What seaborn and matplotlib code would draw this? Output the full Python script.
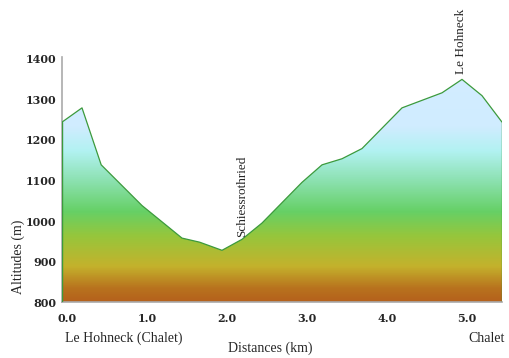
import numpy as np
import pandas as pd
import seaborn as sns
import matplotlib.pyplot as plt
from matplotlib.colors import LinearSegmentedColormap
from matplotlib.transforms import ScaledTranslation

# profile
distances = [0.0, 0.25, 0.49, 1.0, 1.5, 1.72, 2.0, 2.25, 2.5, 3.0, 3.25, 3.5, 3.75,
             4.0, 4.25, 4.75, 5.0, 5.25, 5.5]
altitudes = [1240, 1275, 1135, 1035, 955, 945, 925, 952, 992, 1092, 1135, 1150, 1175,
             1225, 1275, 1312, 1345, 1305, 1240]

waypoints = ["Schiessrothried", "Le Hohneck"]
waypoint_km = [2.25, 4.99]
waypoint_alt = [950, 1350]

x_ticks = [0.0, 1.0, 2.0, 3.0, 4.0, 5.0]
y_ticks = [800, 900, 1000, 1100, 1200, 1300, 1400]

# colour by altitude
grad_alt = [800, 830, 885, 960, 1020, 1100, 1170, 1230, 1400]
grad_col = ["#b5621c", "#b8721e", "#c4b22c", "#96c63c", "#66d066",
            "#8ee2b4", "#b2f2f2", "#d0ecff", "#d4edff"]

df = pd.DataFrame({"km": distances, "alt": altitudes})

sns.set_style("white")
plt.rcParams['font.family'] = ['Liberation Serif', 'DejaVu Serif']

fig = plt.figure(figsize=(5.1, 3.58), dpi=100)
ax = fig.add_axes([62 / 510, 1 - 302 / 358, 440 / 510, 245 / 358])

ymin, ymax = 798, 1400
xmin, xmax = 0, 5.5

# gradient fill clipped to the profile
poly = ax.fill_between(df["km"], df["alt"], ymin, color="none", lw=0)
pos = [(a - grad_alt[0]) / (grad_alt[-1] - grad_alt[0]) for a in grad_alt]
cmap = LinearSegmentedColormap.from_list("alt", list(zip(pos, grad_col)))
grad = np.linspace(ymin, ymax, 400).reshape(-1, 1)
im = ax.imshow(grad, cmap=cmap, vmin=800, vmax=1400, origin="lower", aspect="auto",
               extent=[xmin, xmax, ymin, ymax], zorder=1)
path = poly.get_paths()[0]
im.set_clip_path(path, transform=ax.transData)

sns.lineplot(data=df, x="km", y="alt", ax=ax, color="#3c9a3c", lw=0.9, zorder=3)
ax.plot([xmin, xmin], [ymin, altitudes[0]], color="#3c9a3c", lw=1, zorder=3)
ax.plot([xmax, xmax], [ymin, altitudes[-1]], color="#3c9a3c", lw=1, zorder=3)

ax.set_xlim(xmin, xmax)
ax.set_ylim(ymin, ymax)
ax.set_xticks(x_ticks)
ax.set_xticks(np.arange(0, 5.51, 0.25), minor=True)
ax.set_yticks(y_ticks)
ax.set_yticks(np.arange(800, 1401, 50), minor=True)
ax.set_xticklabels([f"{t:.1f}" for t in x_ticks], fontsize=8, fontweight="bold",
                   family="DejaVu Serif")
ax.set_yticklabels([str(t) for t in y_ticks], fontsize=8, fontweight="bold",
                   family="DejaVu Serif")
ax.tick_params(axis="both", which="both", length=3, width=1.2, color="#999999",
               direction="out")
ax.tick_params(axis="y", pad=1)
ax.tick_params(axis="x", pad=5)

# labels sit a little right of / below their ticks
shift_x = ScaledTranslation(5 / 100, 0, fig.dpi_scale_trans)
for lbl in ax.get_xticklabels():
    lbl.set_transform(lbl.get_transform() + shift_x)
shift_y = ScaledTranslation(0, -1.5 / 100, fig.dpi_scale_trans)
for lbl in ax.get_yticklabels():
    lbl.set_transform(lbl.get_transform() + shift_y)

for side in ["top", "right"]:
    ax.spines[side].set_visible(False)
for side in ["left", "bottom"]:
    ax.spines[side].set_color("#aaaaaa")
    ax.spines[side].set_linewidth(1.2)
ax.set_xlabel("")
ax.set_ylabel("")

for name, km, alt in zip(waypoints, waypoint_km, waypoint_alt):
    ax.text(km, alt + 8, name, rotation=90, ha="center", va="bottom", fontsize=9.5)

fig.text(65 / 510, 1 - 338 / 358, "Le Hohneck (Chalet)", ha="left", va="center", fontsize=10)
fig.text(505 / 510, 1 - 338 / 358, "Chalet", ha="right", va="center", fontsize=10)
fig.text(270 / 510, 1 - 348 / 358, "Distances (km)", ha="center", va="center", fontsize=10)
fig.text(18 / 510, 1 - 257 / 358, "Altitudes (m)", rotation=90, ha="center", va="center",
         fontsize=10)

fig.savefig("out.png", dpi=100, facecolor="white")
